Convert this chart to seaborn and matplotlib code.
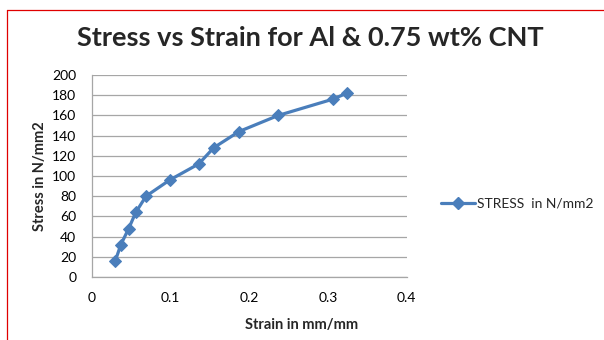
import matplotlib
matplotlib.use("Agg")
import matplotlib.pyplot as plt
from matplotlib.lines import Line2D
import seaborn as sns
import pandas as pd

strain = [0.030, 0.037, 0.047, 0.056, 0.069, 0.099, 0.136, 0.155, 0.187, 0.237, 0.306, 0.324]
stress = [16, 32, 48, 64, 80, 96, 112, 128, 144, 160, 176, 182]
series_label = "STRESS  in N/mm2"
x_ticks = [0, 0.1, 0.2, 0.3, 0.4]
y_ticks = list(range(0, 201, 20))

df = pd.DataFrame({"strain": strain, "stress": stress, "series": series_label})

sns.set_theme(style="white")
plt.rcParams['font.family'] = ['Lato', 'DejaVu Sans']

fig = plt.figure(figsize=(6.04, 3.40), dpi=100)
ax = fig.add_axes([0.1518, 0.1853, 0.5215, 0.5941])

color = "#4A7EBB"
sns.lineplot(data=df, x="strain", y="stress", hue="series", palette=[color],
             sort=False, marker="D", markersize=6.5, linewidth=2.3,
             markeredgecolor=color, ax=ax, legend=False)

ax.set_xlim(0, 0.4)
ax.set_ylim(0, 200)
ax.set_xticks(x_ticks)
ax.set_xticklabels(["0", "0.1", "0.2", "0.3", "0.4"])
ax.set_yticks(y_ticks)
ax.yaxis.grid(True, color="#A6A6A6", linewidth=0.9)
ax.xaxis.grid(False)
for s in ["top", "right"]:
    ax.spines[s].set_visible(False)
for s in ["left", "bottom"]:
    ax.spines[s].set_color("#A6A6A6")
    ax.spines[s].set_linewidth(0.9)
ax.tick_params(axis="both", length=0, labelsize=10, colors="#000000")
ax.tick_params(axis="x", pad=11)
ax.tick_params(axis="y", pad=11)

ax.set_xlabel("Strain in mm/mm", fontsize=10.5, fontweight="bold")
ax.xaxis.set_label_coords((302 - 92) / 315, -0.205)
ax.set_ylabel("Stress in N/mm2", fontsize=10.5, fontweight="bold")
ax.yaxis.set_label_coords(-0.143, 0.5)

fig.text(310 / 604, 1 - 38 / 340, "Stress vs Strain for Al & 0.75 wt% CNT",
         ha="center", va="center", fontsize=19.5, fontweight="bold")

handle = Line2D([0], [0], color=color, linewidth=2.3, marker="D", markersize=6.5)
fig.legend([handle], [series_label], loc="center left",
           bbox_to_anchor=(428 / 604, 1 - 204 / 340), frameon=False,
           fontsize=10, handlelength=2.45, handletextpad=0.2)

# red frame edges (top and left)
fig.add_artist(Line2D([7.5 / 604, 1], [1 - 9.5 / 340, 1 - 9.5 / 340],
                      transform=fig.transFigure, color="#E00000", linewidth=0.9))
fig.add_artist(Line2D([7.5 / 604, 7.5 / 604], [0, 1 - 9.5 / 340],
                      transform=fig.transFigure, color="#E00000", linewidth=0.9))

fig.savefig("out.png", dpi=100, facecolor="white")
